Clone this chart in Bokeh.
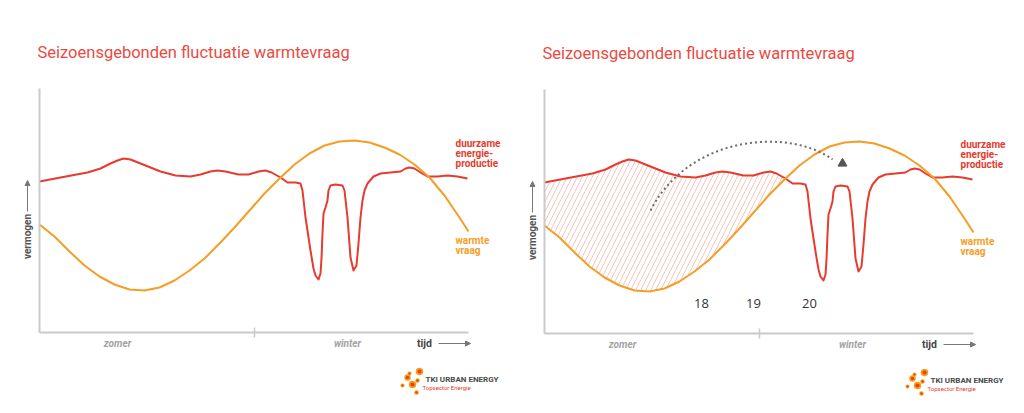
from bokeh.plotting import figure
from bokeh.models import (Range1d, FixedTicker, Label, Arrow, NormalHead, ColumnDataSource,
                          LinearAxis)
from bokeh.layouts import row
from bokeh.embed import file_html
from bokeh.resources import INLINE
from bokeh.core.properties import value

# ---------------- data ----------------
tijd_warmte = [0, 15, 30, 45, 60, 75, 90, 105, 120, 135, 150, 165, 180, 195, 210,
               225, 240, 255, 270, 285, 300, 315, 330, 345, 360, 375, 390, 405, 420, 429]
warmte_vraag = [108, 96, 81, 67, 56, 48, 43, 42, 45, 52, 62, 74, 89, 105, 122,
                139, 154, 168, 179, 187, 191, 192, 190, 185, 178, 168, 155, 137, 115, 101]

tijd_productie = [0, 21, 48, 61, 71, 78, 84, 91, 101, 111, 121, 136, 151, 161, 171, 178, 186, 199, 209, 219,
                  226, 232, 241, 248, 256, 261, 263, 266, 271, 274, 276, 279, 281, 282, 283, 284, 286, 288, 289, 291,
                  296, 303, 305, 308, 311, 314, 317, 319, 321, 323, 325, 328, 334, 341, 351, 361, 366, 370, 375, 381,
                  388, 398, 408, 418, 428]
duurzame_productie = [151, 155, 160, 164, 169, 172, 174, 173, 169, 165, 161, 157, 156, 158, 161, 162, 161, 158, 158, 161,
                      162, 160, 155, 150, 150, 149, 142, 115, 82, 64, 57, 53, 59, 74, 99, 119, 125, 132, 142, 147,
                      148, 147, 142, 115, 75, 62, 67, 89, 115, 132, 142, 149, 156, 159, 160, 161, 164, 165, 164, 160,
                      156, 156, 157, 156, 154]

season_labels = ["zomer", "winter"]
season_pos = [78, 308]
season_split = 215

uur_labels = ["18", "19", "20"]
uur_pos = [157, 209, 265]

title_text = "Seizoensgebonden fluctuatie warmtevraag"
label_productie = "duurzame\nenergie-\nproductie"
label_warmte = "warmte\nvraag"

# logo dots
logo_x = [380, 368, 373, 370, 378, 363, 377]
logo_y = [-39, -45, -52, -41, -48, -53, -60]
logo_d = [7.5, 6.5, 7.5, 4, 4.5, 4, 4.5]

RED = "#e63b2e"
ORANGE = "#f59d25"
TITLE_RED = "#ea4a3f"
AXIS_GREY = "#cacaca"
TEXT_GREY = "#555555"
FONT = "Roboto"

X_MAX, Y_MAX = 429, 244
W, H = 512, 413


def panel(ax_left, ax_bottom, extras):
    p = figure(width=W, height=H,
               x_range=Range1d(-ax_left, W - ax_left), y_range=Range1d(ax_bottom - H, ax_bottom),
               output_backend="svg", toolbar_location=None, min_border=0,
               x_axis_location=None, y_axis_location=None)
    p.outline_line_color = None
    p.grid.visible = False
    p.background_fill_color = "white"
    p.border_fill_color = "white"

    xa = LinearAxis(fixed_location=0, bounds=(0, X_MAX),
                    ticker=FixedTicker(ticks=[], minor_ticks=[season_split]))
    xa.major_tick_line_color = None
    xa.major_tick_in = 0
    xa.major_tick_out = 0
    xa.major_label_standoff = 0
    xa.major_label_text_font_size = "0px"
    xa.minor_tick_in = 5
    xa.minor_tick_out = 5
    xa.minor_tick_line_color = AXIS_GREY
    xa.minor_tick_line_width = 1.5
    xa.axis_line_color = AXIS_GREY
    xa.axis_line_width = 2
    p.add_layout(xa, "below")

    ya = LinearAxis(fixed_location=0, bounds=(0, Y_MAX), ticker=FixedTicker(ticks=[]))
    ya.major_tick_line_color = None
    ya.minor_tick_line_color = None
    ya.major_tick_in = 0
    ya.major_tick_out = 0
    ya.major_label_standoff = 0
    ya.major_label_text_font_size = "0px"
    ya.axis_line_color = AXIS_GREY
    ya.axis_line_width = 2
    p.add_layout(ya, "left")

    if extras:
        hx = [x for x in tijd_productie if x <= 241]
        hy = duurzame_productie[:len(hx)]
        ox = [x for x in tijd_warmte if x <= 240]
        oy = warmte_vraag[:len(ox)]
        p.patch(hx + ox[::-1], hy + oy[::-1], fill_alpha=0, line_alpha=0,
                hatch_pattern="/", hatch_color="#f6b0a6", hatch_alpha=0.75,
                hatch_scale=10, hatch_weight=1)

    p.line(tijd_productie, duurzame_productie, line_color=RED, line_width=2, line_join="round")
    p.line(tijd_warmte, warmte_vraag, line_color=ORANGE, line_width=2, line_join="round")

    if extras:
        p.bezier(x0=[106], y0=[123], x1=[288], y1=[174], cx0=[146], cy0=[200], cx1=[246], cy1=[205],
                 line_color="#6b6b6b", line_width=2, line_dash="2 3")
        p.scatter([298], [170], marker="triangle", size=9, fill_color="#555555", line_color="#555555")
        src = ColumnDataSource(dict(x=uur_pos, y=[30] * 3, t=uur_labels))
        p.text("x", "y", text="t", source=src, text_align="center", text_baseline="middle",
               text_font=value("Open Sans"), text_font_size="13px", text_color="#333333")

    # season labels
    ssrc = ColumnDataSource(dict(x=season_pos, y=[-11] * 2, t=season_labels))
    p.text("x", "y", text="t", source=ssrc, text_align="center", text_baseline="middle",
           text_font=value(FONT), text_font_size="10px", text_font_style="bold italic",
           text_color="#a3a3a3")

    def lab(x, y, text, **kw):
        p.add_layout(Label(x=x, y=y, text=text, text_font=FONT, **kw))

    lab(-2, 280, title_text, text_font_size="16.5px", text_color=TITLE_RED,
        text_baseline="alphabetic", text_align="left")
    lab(416, 179, label_productie, text_font_size="10px", text_font_style="bold",
        text_color=RED, text_baseline="middle", text_align="left", text_line_height=0.95)
    lab(416, 87, label_warmte, text_font_size="10px", text_font_style="bold",
        text_color=ORANGE, text_baseline="middle", text_align="left", text_line_height=0.95)
    lab(-12, 96, "vermogen", text_font_size="10px", text_font_style="bold",
        text_color=TEXT_GREY, text_baseline="middle", text_align="center", angle=1.5708)
    lab(385, -11, "tijd", text_font_size="10.5px", text_font_style="bold",
        text_color="#444444", text_baseline="middle", text_align="center")
    p.add_layout(Arrow(x_start=-12, y_start=121, x_end=-12, y_end=152,
                       line_color="#777777", line_width=1,
                       end=NormalHead(size=5, fill_color="#777777", line_color="#777777")))
    p.add_layout(Arrow(x_start=399, y_start=-11, x_end=431, y_end=-11,
                       line_color="#777777", line_width=1,
                       end=NormalHead(size=5, fill_color="#777777", line_color="#777777")))

    # logo
    p.scatter(logo_x, logo_y, size=logo_d, fill_color="#f6a01c", line_color=None)
    p.scatter(logo_x, logo_y, size=[d * 0.55 for d in logo_d], fill_color="#e8431b", line_color=None)
    lab(386, -47, "TKI URBAN ENERGY", text_font_style="bold", text_font_size="8px",
        text_color="#4a4a4a", text_baseline="middle")
    lab(383, -55, "Topsector Energie", text_font_size="6px", text_color=RED,
        text_baseline="middle")
    return p


p1 = panel(39, 332, False)
p2 = panel(32, 333, True)

layout = row(p1, p2)
open("out.html", "w").write(file_html(layout, INLINE))
